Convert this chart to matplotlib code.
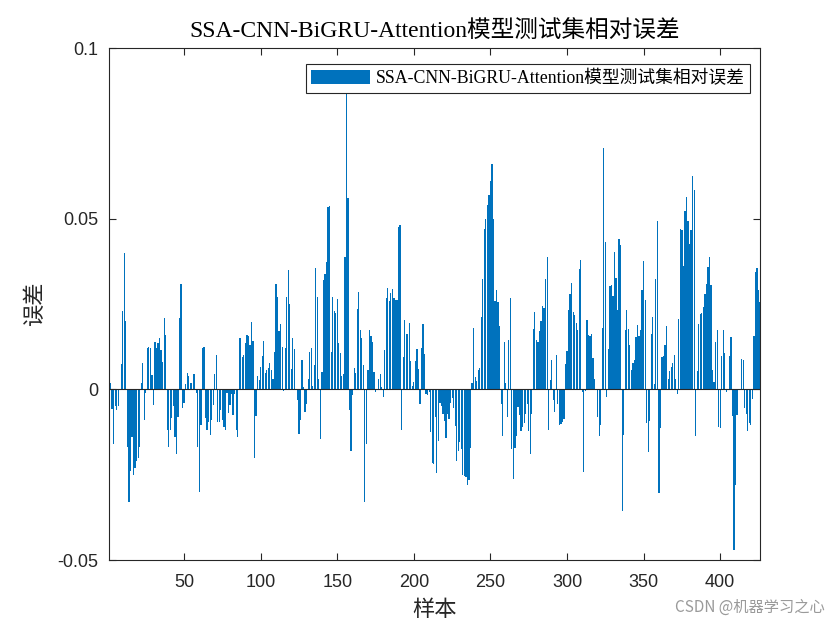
import numpy as np
import matplotlib
matplotlib.use("Agg")
import matplotlib.pyplot as plt

title_text = "SSA-CNN-BiGRU-Attention模型测试集相对误差"
legend_label = "SSA-CNN-BiGRU-Attention模型测试集相对误差"
x_label = "样本"
y_label = "误差"
x_ticks = [50, 100, 150, 200, 250, 300, 350, 400]
y_ticks = [-0.05, 0, 0.05, 0.1]
y_tick_labels = ["-0.05", "0", "0.05", "0.1"]

seg1 = [0.002, 0.002, -0.0057, -0.016, -0.005, -0.006, -0.005, 0.0002, 0.0075, 0.023, 0.040, 0.020,
        -0.017, -0.033, -0.024, -0.014, -0.025, -0.023, -0.021, -0.020, -0.017, 0.002, 0.0078, -0.009,
        -0.001, 0.012, 0.0125, 0.012, 0.0043, -0.0045, 0.014, 0.012, 0.0135, 0.015, 0.0115]
seg2 = [0.008, 0.021, 0.016, -0.012, -0.017, -0.012, -0.0085, -0.005, -0.014, -0.019, -0.008, 0.021,
        0.031, -0.0055, -0.004, 0.0017, 0.0047, 0.004, 0.002, 0.0018, 0.0045, 0.0045, -0.001, -0.017,
        -0.030, -0.0105, 0.012, 0.0125, -0.0085, -0.012, -0.0095, -0.0135, -0.009, -0.0045, 0.0045, 0.01]
seg3 = [-0.0095, -0.0095, -0.006, -0.009, -0.011, -0.012, -0.001, -0.007, -0.0045, -0.0015, -0.0075,
        -0.0015, -0.012, -0.014, 0.015, 0.015, 0.0095, 0.010, 0.0135, 0.016, 0.0155, 0.013, 0.0198,
        0.0143, -0.020, -0.0078, 0.004, 0.0028, 0.0065, 0.0098, 0.0143, 0.0047, 0.0057, 0.0063, 0.0078]
seg4 = [0.0056, 0.0029, 0.011, 0.031, 0.027, 0.017, 0.019, 0.0125, -0.0005, 0.012, 0.027, 0.035,
        0.025, 0.006, 0.015, 0.0117, 0.0, -0.0032, -0.013, -0.009, 0.0085, 0.0006, -0.0066, -0.0043,
        0.003, 0.011, 0.012, 0.001, 0.007, 0.0356, 0.027, 0.003, -0.0146, 0.005, 0.032]
seg5 = [0.0338, 0.0372, 0.0535, 0.0538, 0.011, 0.027, 0.023, 0.0223, 0.0265, 0.0135, 0.0106, 0.0039,
        0.0046, 0.0387, 0.0866, 0.056, -0.006, -0.018, -0.0016, 0.0063, 0.0048, 0.0236, 0.0284, 0.0174,
        0.015, 0.007, -0.033, -0.016, 0.0056, 0.0174, 0.0155, 0.0138, 0.005, -0.0008, -0.0003]
seg6 = [0.003, 0.0044, 0.0007, -0.0022, 0.0114, 0.0268, 0.0297, 0.0258, 0.0282, 0.0294, 0.0268,
        0.0262, 0.0262, 0.0477, 0.0482, -0.012, 0.0096, 0.0204, 0.0163, 0.0163, 0.0194, 0.0082, 0.001,
        0.0021, 0.0082, 0.0117, 0.006, -0.0042, 0.0122, 0.019, 0.0104, -0.0015, -0.0018, -0.0008,
        -0.0125, -0.0217]
seg7 = [-0.022, -0.008, -0.0245, -0.015, -0.004, -0.005, -0.0073, -0.0094, -0.0144, -0.0073, -0.0088,
        -0.0039, -0.0026, -0.0055, -0.0107, -0.021, -0.018, -0.0154, -0.0176, -0.025, -0.0253, -0.0257,
        -0.028, -0.0266, -0.0172, 0.002, 0.018, 0.0036, 0.0024, 0.0058, 0.0063, 0.0212, 0.0324, 0.047]
seg8 = [0.05, 0.054, 0.057, 0.061, 0.066, 0.050, 0.026, 0.029, 0.0257, 0.0185, -0.0042, -0.0137,
        0.0138, 0.0019, -0.0081, 0.0145, 0.0268, -0.0176, -0.0264, -0.0171, -0.0137, -0.0052, -0.0076,
        -0.0122, -0.011, -0.01, -0.0073, -0.0042, -0.0123, -0.0188, -0.0071, 0.0177, 0.0226, 0.0145,
        0.0138, 0.0172]
seg9 = [0.0199, 0.0243, 0.0239, 0.0324, 0.0389, -0.012, 0.0026, 0.0085, -0.0031, -0.0066, 0.0101,
        -0.0042, -0.0105, -0.0102, -0.0095, -0.0086, 0.0075, 0.0111, 0.0231, 0.0278, 0.0311, 0.0226,
        0.0219, 0.0194, 0.0175, 0.0353, 0.0379, -0.0008, -0.0242, -0.0005, 0.0202, 0.0158, 0.0155, 0.0163]
seg10 = [0.0093, 0.0029, 0.0, -0.0081, -0.0137, -0.0105, 0.018, 0.0707, 0.0431, -0.0022, 0.0119,
         0.0302, 0.0307, 0.0273, 0.0403, 0.0326, 0.0233, 0.044, 0.0424, -0.0356, -0.0134, 0.0174,
         0.0231, 0.0177, 0.0129, 0.0056, 0.0077, 0.0087, 0.0153, 0.0189, 0.0155, 0.0175, 0.029, 0.0377,
         0.0262, -0.010, -0.0183]
seg11 = [-0.0093, 0.0163, 0.0213, 0.0015, 0.0324, 0.0492, -0.0305, -0.0112, 0.0095, 0.0099, 0.0129,
         0.0187, 0.0031, 0.0054, 0.0065, 0.0078, 0.0102, 0.0031, -0.0013, 0.0207, 0.047, 0.0467, 0.036,
         0.0523, 0.0564, 0.0492, 0.0426, 0.0467, 0.0626, 0.0584, -0.0137, 0.0054, 0.0192, 0.0221]
seg12 = [0.0223, 0.024, 0.028, 0.0309, 0.0358, 0.0387, 0.0306, 0.0056, 0.0021, 0.0138, 0.0174, -0.011,
         -0.0112, 0.0099, 0.0174, 0.0106, -0.0008, 0.0, 0.0097, 0.0153, -0.0079, -0.047, -0.028, -0.0076,
         0.0, 0.0, 0.0088, 0.0085, -0.0054, -0.0071, -0.0122, -0.010, -0.0105, -0.0027, 0.0155, 0.0343,
         0.0356, 0.029, 0.0255]

errors = np.array(seg1 + seg2 + seg3 + seg4 + seg5 + seg6 + seg7 + seg8 + seg9 + seg10 + seg11 + seg12)
n = len(errors)
samples = np.arange(1, n + 1)

serif_cjk = ['Liberation Serif', 'Noto Sans CJK SC']
plt.rcParams['font.family'] = ['Liberation Sans', 'Noto Sans CJK SC']

fig = plt.figure(figsize=(8.4, 6.3), dpi=100)
ax = fig.add_axes([0.1298, 0.1111, 0.7750, 0.8127])

bar_color = '#0072BD'
ax.bar(samples, errors, width=0.8, color=bar_color, linewidth=0,
       label=legend_label, zorder=2)
ax.axhline(0, color='#262626', linewidth=0.8, zorder=3)

ax.set_xlim(1, n)
ax.set_ylim(-0.05, 0.1)
ax.set_xticks(x_ticks)
ax.set_yticks(y_ticks)
ax.set_yticklabels(y_tick_labels)

edge = '#262626'
for s in ax.spines.values():
    s.set_color(edge)
    s.set_linewidth(0.8)
ax.tick_params(direction='in', length=5, width=0.8, colors=edge, labelsize=13,
               top=True, right=True)
ax.tick_params(axis='x', pad=10)
ax.tick_params(axis='y', pad=8)
for lab in ax.get_xticklabels() + ax.get_yticklabels():
    lab.set_color(edge)

ax.set_title(title_text, family=serif_cjk, fontsize=17, color='black', pad=7)
ax.set_xlabel(x_label, family=['Noto Sans CJK SC'], fontsize=16, color=edge, labelpad=5)
ax.set_ylabel(y_label, family=['Noto Sans CJK SC'], fontsize=16, color=edge, labelpad=8)

leg = ax.legend(loc='upper right', bbox_to_anchor=(0.984, 0.968), fancybox=False, framealpha=1,
                edgecolor='#262626', prop={'family': serif_cjk, 'size': 12.8},
                handlelength=3.3, handleheight=0.9, borderpad=0.3, handletextpad=0.3,
                borderaxespad=0)
leg.get_frame().set_linewidth(0.8)

fig.text(0.982, 0.022, "CSDN @机器学习之心", ha='right', va='bottom', fontsize=11,
         color='#9a9a9a', family=['Noto Sans CJK SC', 'DejaVu Sans'])

fig.savefig('out.png', dpi=100, facecolor='white')
